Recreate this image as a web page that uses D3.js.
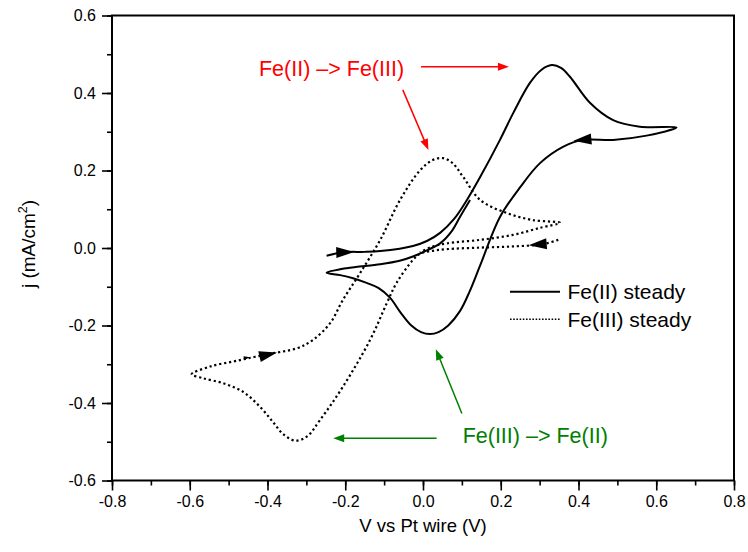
<!DOCTYPE html>
<html>
<head>
<meta charset="utf-8">
<script src="https://cdn.jsdelivr.net/npm/d3@7"></script>
<style>
body { margin: 0; background: #fff; }
text { font-family: "Liberation Sans", Arial, sans-serif; }
</style>
</head>
<body>
<svg id="chart" width="748" height="552"></svg>
<script>
// Fe(II) steady (solid) - potential (V) and current density (mA/cm2)
var fe2V = [-0.248, -0.206, -0.150, -0.110, -0.060, -0.026, 0.010, 0.044, 0.080, 0.113, 0.147, 0.198, 0.232, 0.275, 0.305, 0.331, 0.355, 0.378, 0.430, 0.489, 0.558, 0.652,
            0.575, 0.489, 0.412, 0.360, 0.301, 0.250, 0.198, 0.147, 0.120, 0.095, 0.065, 0.040, 0.018, -0.005, -0.030, -0.058, -0.085, -0.115, -0.145, -0.180, -0.213, -0.248,
            -0.196, -0.110, -0.060, -0.026, 0.010, 0.044, 0.075, 0.095, 0.121];
var fe2J = [-0.020, -0.011, -0.010, -0.008, -0.002, 0.005, 0.018, 0.039, 0.075, 0.124, 0.183, 0.279, 0.348, 0.426, 0.460, 0.472, 0.465, 0.442, 0.374, 0.330, 0.313, 0.311,
            0.290, 0.279, 0.279, 0.261, 0.219, 0.157, 0.080, -0.045, -0.112, -0.163, -0.200, -0.217, -0.222, -0.217, -0.200, -0.166, -0.128, -0.103, -0.090, -0.078, -0.070, -0.064,
            -0.052, -0.042, -0.033, -0.022, -0.006, 0.012, 0.045, 0.080, 0.124];

// Fe(III) steady (dotted)
var fe3V = [0.348, 0.309, 0.232, 0.147, 0.061, 0.020, -0.008, -0.026, -0.068, -0.093, -0.136, -0.206, -0.265, -0.299, -0.329, -0.360, -0.386, -0.420, -0.463, -0.514, -0.566, -0.595,
            -0.548, -0.479, -0.400, -0.325, -0.283, -0.239, -0.206, -0.162, -0.110, -0.059, -0.008, 0.025, 0.051, 0.075, 0.103, 0.147, 0.216, 0.283, 0.352,
            0.301, 0.232, 0.147, 0.061, 0.020, -0.008];
var fe3J = [0.021, 0.010, 0.004, 0.001, -0.003, -0.008, -0.015, -0.031, -0.090, -0.142, -0.237, -0.358, -0.444, -0.487, -0.497, -0.480, -0.449, -0.409, -0.371, -0.349, -0.336, -0.326,
            -0.306, -0.291, -0.274, -0.259, -0.237, -0.194, -0.134, -0.065, 0.021, 0.124, 0.200, 0.227, 0.232, 0.220, 0.184, 0.124, 0.090, 0.072, 0.065,
            0.052, 0.034, 0.021, 0.012, 0.002, -0.012];

// scan direction arrows on the curves: position, a point further along the scan, size
var arrowV = [-0.200, 0.410, 0.295, -0.398, -0.453];
var arrowJ = [-0.011, 0.279, 0.009, -0.275, -0.283];
var arrowToV = [-0.165, 0.370, 0.260, -0.360, -0.420];
var arrowToJ = [-0.010, 0.275, 0.006, -0.266, -0.278];
var arrowSize = [1, 1, 1, 1, 0.35];

var xTicks = [-0.8, -0.6, -0.4, -0.2, 0.0, 0.2, 0.4, 0.6, 0.8];
var yTicks = [-0.6, -0.4, -0.2, 0.0, 0.2, 0.4, 0.6];
var xMinor = d3.range(-8, 9).map(function(i) { return i / 10; });
var yMinor = d3.range(-6, 7).map(function(i) { return i / 10; });

var seriesNames = ["Fe(II) steady", "Fe(III) steady"];

var margin = {top: 15.5, right: 14, bottom: 71.5, left: 112};
var width = 748 - margin.left - margin.right;
var height = 552 - margin.top - margin.bottom;

var svg = d3.select("#chart").append("g")
	.attr("transform", "translate(" + margin.left + "," + margin.top + ")");

var xs = d3.scaleLinear().domain([-0.8, 0.8]).range([0, width]);
var ys = d3.scaleLinear().domain([-0.6, 0.6]).range([height, 0]);

// axes: major ticks with labels, minor ticks without
var fmt = d3.format(".1f");
svg.append("g").attr("class", "axis")
	.attr("transform", "translate(0," + height + ")")
	.call(d3.axisBottom(xs).tickValues(xMinor).tickSize(5).tickFormat(""));
svg.append("g").attr("class", "axis")
	.attr("transform", "translate(0," + height + ")")
	.call(d3.axisBottom(xs).tickValues(xTicks).tickSize(10).tickPadding(5).tickFormat(function(d) { return fmt(d).replace("−", "-"); }));
svg.append("g").attr("class", "axis")
	.call(d3.axisLeft(ys).tickValues(yMinor).tickSize(5).tickFormat(""));
svg.append("g").attr("class", "axis")
	.call(d3.axisLeft(ys).tickValues(yTicks).tickSize(10).tickPadding(6).tickFormat(function(d) { return fmt(d).replace("−", "-"); }));

svg.selectAll(".axis path").remove();
svg.selectAll(".axis line").attr("stroke", "#000").attr("stroke-width", 1.6);
svg.selectAll(".axis text").attr("font-size", "16px").attr("fill", "#000")
	.attr("font-family", "Liberation Sans, Arial, sans-serif");

// frame
svg.append("rect")
	.attr("width", width)
	.attr("height", height)
	.attr("fill", "none")
	.attr("stroke", "#000")
	.attr("stroke-width", 2);

var line = d3.line()
	.x(function(d) { return xs(d[0]); })
	.y(function(d) { return ys(d[1]); })
	.curve(d3.curveCatmullRom.alpha(0.5));

var fe2 = fe2V.map(function(v, i) { return [v, fe2J[i]]; });
var fe3 = fe3V.map(function(v, i) { return [v, fe3J[i]]; });

svg.append("path")
	.datum(fe3)
	.attr("fill", "none")
	.attr("stroke", "#000")
	.attr("stroke-width", 2.2)
	.attr("stroke-dasharray", "2.2,2.8")
	.attr("d", line);

svg.append("path")
	.datum(fe2)
	.attr("fill", "none")
	.attr("stroke", "#000")
	.attr("stroke-width", 2)
	.attr("stroke-linejoin", "round")
	.attr("d", line);

// scan direction arrowheads
arrowV.forEach(function(v, i) {
	var x0 = xs(v), y0 = ys(arrowJ[i]);
	var ang = Math.atan2(ys(arrowToJ[i]) - y0, xs(arrowToV[i]) - x0) * 180 / Math.PI;
	svg.append("path")
		.attr("d", "M9,0 L-9,-5.5 L-9,5.5 Z")
		.attr("fill", "#000")
		.attr("transform", "translate(" + x0 + "," + y0 + ") rotate(" + ang + ") scale(" + arrowSize[i] + ")");
});

// annotation arrows
function annArrow(v1, j1, v2, j2, col) {
	var x1 = xs(v1), y1 = ys(j1), x2 = xs(v2), y2 = ys(j2);
	var ang = Math.atan2(y2 - y1, x2 - x1);
	var len = 11, w = 4;
	svg.append("line")
		.attr("x1", x1).attr("y1", y1)
		.attr("x2", x2 - Math.cos(ang) * len * 0.8).attr("y2", y2 - Math.sin(ang) * len * 0.8)
		.attr("stroke", col).attr("stroke-width", 1.5);
	svg.append("path")
		.attr("d", "M0,0 L" + (-len) + "," + (-w) + " L" + (-len) + "," + w + " Z")
		.attr("fill", col)
		.attr("transform", "translate(" + x2 + "," + y2 + ") rotate(" + (ang * 180 / Math.PI) + ")");
}

annArrow(-0.005, 0.468, 0.221, 0.468, "#ff0000");
annArrow(-0.052, 0.408, 0.014, 0.253, "#ff0000");
annArrow(0.100, -0.427, 0.033, -0.261, "#008000");
annArrow(0.035, -0.491, -0.231, -0.491, "#008000");

svg.append("text")
	.attr("x", xs(-0.422))
	.attr("y", ys(0.444))
	.attr("font-size", "21.5px")
	.attr("fill", "#ff0000")
	.text("Fe(II) –> Fe(III)");

svg.append("text")
	.attr("x", xs(0.102))
	.attr("y", ys(-0.503))
	.attr("font-size", "21.5px")
	.attr("fill", "#008000")
	.text("Fe(III) –> Fe(II)");

// legend
var legend = svg.append("g").attr("transform", "translate(" + (510 - margin.left) + "," + (291.7 - margin.top) + ")");
legend.selectAll("line")
	.data(seriesNames)
	.enter()
	.append("line")
	.attr("x1", 0)
	.attr("x2", 50)
	.attr("y1", function(d, i) { return i * 27.5; })
	.attr("y2", function(d, i) { return i * 27.5; })
	.attr("stroke", "#000")
	.attr("stroke-width", function(d, i) { return i == 0 ? 2 : 1.6; })
	.attr("stroke-dasharray", function(d, i) { return i == 0 ? null : "1.6,1.6"; });
legend.selectAll("text")
	.data(seriesNames)
	.enter()
	.append("text")
	.attr("x", 57.5)
	.attr("y", function(d, i) { return i * 27.5 + 7.5; })
	.attr("font-size", "21px")
	.attr("fill", "#000")
	.text(function(d) { return d; });

// axis titles
svg.append("text")
	.attr("x", width / 2)
	.attr("y", height + 51)
	.attr("text-anchor", "middle")
	.attr("font-size", "18.5px")
	.text("V vs Pt wire (V)");

var yt = svg.append("text")
	.attr("transform", "translate(" + (-77) + "," + (height / 2 - 4) + ") rotate(-90)")
	.attr("text-anchor", "middle")
	.attr("font-size", "19px");
yt.append("tspan").text("j (mA/cm");
yt.append("tspan").attr("font-size", "12.5px").attr("dy", "-8").text("2");
yt.append("tspan").attr("dy", "8").text(")");
</script>
</body>
</html>
